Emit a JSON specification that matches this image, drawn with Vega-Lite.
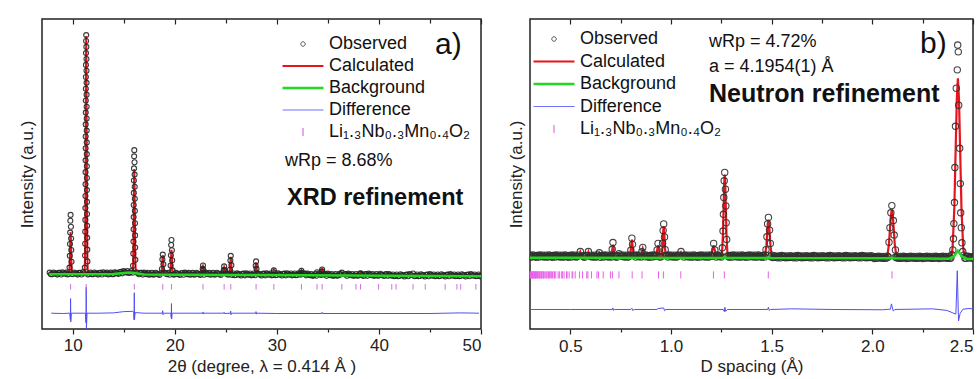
{
"$schema": "https://vega.github.io/schema/vega-lite/v6.json",
"padding": {"left": 17, "top": 17, "right": 0, "bottom": 0},
"background": "white",
"spacing": 23,
"resolve": {"scale": {"color": "independent", "shape": "independent", "strokeWidth": "independent"}, "legend": {"color": "independent", "shape": "independent", "strokeWidth": "independent"}},
"config": {
  "view": {"stroke": "#222", "strokeWidth": 1.5},
  "axis": {"labelFont": "Liberation Sans", "titleFont": "Liberation Sans", "labelFontSize": 17, "titleFontSize": 17, "titleFontWeight": "normal", "labelColor": "#222", "titleColor": "#222", "grid": false, "domain": false, "tickColor": "#222", "minExtent": 0},
  "text": {"font": "Liberation Sans", "color": "#111"}
},
"datasets": {
"keys": [{"s":"Observed"},{"s":"Calculated"},{"s":"Background"},{"s":"Difference"},{"s":"Li₁.₃Nb₀.₃Mn₀.₄O₂"}],
"obsA": [
{"x":7.75,"y":18.2},{"x":8,"y":17.7},{"x":8.25,"y":18},{"x":8.5,"y":17.55},{"x":8.75,"y":18.15},{"x":9,"y":18.3},{"x":9.25,"y":17.8},{"x":9.5,"y":17.6},{"x":10,"y":17.7},{"x":10.25,"y":18},{"x":10.5,"y":17.55},{"x":10.75,"y":18.15},{"x":11,"y":18.3},{"x":11.5,"y":17.6},{"x":11.75,"y":18.2},{"x":12,"y":17.7},{"x":12.25,"y":18},{"x":12.5,"y":17.55},{"x":12.75,"y":18.15},{"x":13,"y":18.3},{"x":13.25,"y":17.8},{"x":13.5,"y":17.6},{"x":13.75,"y":18.2},{"x":14,"y":17.7},{"x":14.25,"y":18.1},{"x":14.5,"y":17.75},{"x":14.75,"y":18.45},{"x":15,"y":18.7},{"x":15.25,"y":18.25},{"x":15.5,"y":18.1},{"x":15.75,"y":18.7},{"x":16.25,"y":18.3},{"x":16.5,"y":17.65},{"x":16.75,"y":18.15},{"x":17,"y":18.2},{"x":17.25,"y":17.7},{"x":17.5,"y":17.5},{"x":17.75,"y":18.1},{"x":18,"y":17.6},{"x":18.25,"y":17.9},{"x":18.5,"y":17.45},{"x":19,"y":18.2},{"x":19.25,"y":17.7},{"x":19.5,"y":17.5},{"x":20,"y":17.6},{"x":20.25,"y":17.9},{"x":20.5,"y":17.45},{"x":20.75,"y":18.05},{"x":21,"y":18.2},{"x":21.25,"y":17.7},{"x":21.5,"y":17.5},{"x":21.75,"y":18.1},{"x":22,"y":17.6},{"x":22.25,"y":17.9},{"x":22.5,"y":17.45},{"x":23,"y":18.2},{"x":23.25,"y":17.7},{"x":23.5,"y":17.5},{"x":23.75,"y":18.1},{"x":24,"y":17.6},{"x":24.25,"y":17.9},{"x":24.5,"y":17.45},{"x":25,"y":18},{"x":25.25,"y":17.5},{"x":25.75,"y":17.9},{"x":26,"y":17.4},{"x":26.25,"y":17.7},{"x":26.5,"y":17.25},{"x":26.75,"y":17.85},{"x":27,"y":18},{"x":27.25,"y":17.5},{"x":27.5,"y":17.3},{"x":27.75,"y":17.9},{"x":28.25,"y":17.7},{"x":28.5,"y":17.25},{"x":28.75,"y":17.85},{"x":29,"y":18},{"x":29.25,"y":17.5},{"x":29.5,"y":17.3},{"x":30,"y":17.4},{"x":30.25,"y":17.7},{"x":30.5,"y":17.25},{"x":30.75,"y":17.85},{"x":31,"y":18},{"x":31.25,"y":17.5},{"x":31.5,"y":17.3},{"x":31.75,"y":17.9},{"x":32,"y":17.4},{"x":32.25,"y":17.7},{"x":32.75,"y":17.85},{"x":33,"y":17.85},{"x":33.25,"y":17.35},{"x":33.5,"y":17.15},{"x":33.75,"y":17.75},{"x":34.25,"y":17.55},{"x":34.75,"y":17.7},{"x":35,"y":17.85},{"x":35.25,"y":17.35},{"x":35.5,"y":17.15},{"x":35.75,"y":17.75},{"x":36,"y":17.25},{"x":36.25,"y":17.55},{"x":36.75,"y":17.7},{"x":37,"y":17.85},{"x":37.25,"y":17.35},{"x":37.5,"y":17.15},{"x":37.75,"y":17.75},{"x":38,"y":17.25},{"x":38.5,"y":17.1},{"x":38.75,"y":17.7},{"x":39,"y":17.85},{"x":39.25,"y":17.35},{"x":39.5,"y":17.15},{"x":39.75,"y":17.75},{"x":40,"y":17.25},{"x":40.25,"y":17.55},{"x":40.5,"y":17.1},{"x":40.75,"y":17.7},{"x":41,"y":17.7},{"x":41.25,"y":17.2},{"x":41.5,"y":17},{"x":41.75,"y":17.6},{"x":42,"y":17.1},{"x":42.25,"y":17.4},{"x":42.5,"y":16.95},{"x":42.75,"y":17.55},{"x":43,"y":17.7},{"x":43.5,"y":17},{"x":43.75,"y":17.6},{"x":44,"y":17.1},{"x":44.25,"y":17.4},{"x":44.5,"y":16.95},{"x":44.75,"y":17.55},{"x":45,"y":17.7},{"x":45.25,"y":17.2},{"x":45.5,"y":17},{"x":45.75,"y":17.6},{"x":46,"y":17.1},{"x":46.25,"y":17.4},{"x":46.5,"y":16.95},{"x":46.75,"y":17.55},{"x":47,"y":17.7},{"x":47.25,"y":17.2},{"x":47.5,"y":17},{"x":47.75,"y":17.6},{"x":48,"y":17.1},{"x":48.25,"y":17.4},{"x":48.5,"y":16.95},{"x":48.75,"y":17.55},{"x":49,"y":17.7},{"x":49.25,"y":17.2},{"x":49.5,"y":17},{"x":49.75,"y":17.6},{"x":50,"y":17.1},
{"x":7.875,"y":17.65},{"x":8.125,"y":18.25},{"x":8.375,"y":17.85},{"x":8.625,"y":18.1},{"x":8.875,"y":17.6},{"x":9.125,"y":18},{"x":9.375,"y":18.2},{"x":9.625,"y":17.75},{"x":10.125,"y":18.25},{"x":10.375,"y":17.85},{"x":10.625,"y":18.1},{"x":10.875,"y":17.6},{"x":11.125,"y":18},{"x":11.625,"y":17.75},{"x":11.875,"y":17.65},{"x":12.125,"y":18.25},{"x":12.375,"y":17.85},{"x":12.625,"y":18.1},{"x":12.875,"y":17.6},{"x":13.125,"y":18},{"x":13.375,"y":18.2},{"x":13.625,"y":17.75},{"x":13.875,"y":17.65},{"x":14.125,"y":18.3},{"x":14.375,"y":18},{"x":14.625,"y":18.35},{"x":14.875,"y":17.95},{"x":15.125,"y":18.4},{"x":15.375,"y":18.7},{"x":15.625,"y":18.25},{"x":15.875,"y":18.15},{"x":16.375,"y":18.05},{"x":16.625,"y":18.15},{"x":16.875,"y":17.55},{"x":17.125,"y":17.9},{"x":17.375,"y":18.1},{"x":17.625,"y":17.65},{"x":17.875,"y":17.55},{"x":18.125,"y":18.15},{"x":18.375,"y":17.75},{"x":18.625,"y":18},{"x":19.125,"y":17.9},{"x":19.375,"y":18.1},{"x":19.875,"y":17.55},{"x":20.125,"y":18.15},{"x":20.375,"y":17.75},{"x":20.625,"y":18},{"x":20.875,"y":17.5},{"x":21.125,"y":17.9},{"x":21.375,"y":18.1},{"x":21.625,"y":17.65},{"x":21.875,"y":17.55},{"x":22.125,"y":18.15},{"x":22.375,"y":17.75},{"x":22.625,"y":18},{"x":22.875,"y":17.5},{"x":23.125,"y":17.9},{"x":23.375,"y":18.1},{"x":23.625,"y":17.65},{"x":23.875,"y":17.55},{"x":24.125,"y":18.15},{"x":24.375,"y":17.75},{"x":24.625,"y":18},{"x":25.125,"y":17.7},{"x":25.375,"y":17.9},{"x":25.625,"y":17.45},{"x":25.875,"y":17.35},{"x":26.125,"y":17.95},{"x":26.375,"y":17.55},{"x":26.625,"y":17.8},{"x":26.875,"y":17.3},{"x":27.125,"y":17.7},{"x":27.375,"y":17.9},{"x":27.625,"y":17.45},{"x":27.875,"y":17.35},{"x":28.125,"y":17.95},{"x":28.375,"y":17.55},{"x":28.625,"y":17.8},{"x":28.875,"y":17.3},{"x":29.125,"y":17.7},{"x":29.375,"y":17.9},{"x":29.625,"y":17.45},{"x":29.875,"y":17.35},{"x":30.125,"y":17.95},{"x":30.375,"y":17.55},{"x":30.625,"y":17.8},{"x":30.875,"y":17.3},{"x":31.125,"y":17.7},{"x":31.375,"y":17.9},{"x":31.625,"y":17.45},{"x":31.875,"y":17.35},{"x":32.125,"y":17.95},{"x":32.375,"y":17.55},{"x":32.625,"y":17.8},{"x":32.875,"y":17.3},{"x":33.125,"y":17.55},{"x":33.375,"y":17.75},{"x":33.625,"y":17.3},{"x":33.875,"y":17.2},{"x":34.125,"y":17.8},{"x":34.375,"y":17.4},{"x":34.625,"y":17.65},{"x":34.875,"y":17.15},{"x":35.125,"y":17.55},{"x":35.375,"y":17.75},{"x":35.625,"y":17.3},{"x":35.875,"y":17.2},{"x":36.125,"y":17.8},{"x":36.625,"y":17.65},{"x":36.875,"y":17.15},{"x":37.125,"y":17.55},{"x":37.375,"y":17.75},{"x":37.625,"y":17.3},{"x":37.875,"y":17.2},{"x":38.125,"y":17.8},{"x":38.375,"y":17.4},{"x":38.625,"y":17.65},{"x":38.875,"y":17.15},{"x":39.125,"y":17.55},{"x":39.375,"y":17.75},{"x":39.625,"y":17.3},{"x":39.875,"y":17.2},{"x":40.125,"y":17.8},{"x":40.375,"y":17.4},{"x":40.625,"y":17.65},{"x":40.875,"y":17.15},{"x":41.125,"y":17.4},{"x":41.375,"y":17.6},{"x":41.625,"y":17.15},{"x":41.875,"y":17.05},{"x":42.125,"y":17.65},{"x":42.375,"y":17.25},{"x":42.625,"y":17.5},{"x":42.875,"y":17},{"x":43.125,"y":17.4},{"x":43.625,"y":17.15},{"x":43.875,"y":17.05},{"x":44.125,"y":17.65},{"x":44.375,"y":17.25},{"x":44.625,"y":17.5},{"x":44.875,"y":17},{"x":45.125,"y":17.4},{"x":45.375,"y":17.6},{"x":45.625,"y":17.15},{"x":45.875,"y":17.05},{"x":46.125,"y":17.65},{"x":46.375,"y":17.25},{"x":46.625,"y":17.5},{"x":46.875,"y":17},{"x":47.125,"y":17.4},{"x":47.375,"y":17.6},{"x":47.625,"y":17.15},{"x":47.875,"y":17.05},{"x":48.125,"y":17.65},{"x":48.375,"y":17.25},{"x":48.625,"y":17.5},{"x":48.875,"y":17},{"x":49.125,"y":17.4},{"x":49.375,"y":17.6},{"x":49.625,"y":17.15},{"x":49.875,"y":17.05},
{"x":9.8,"y":36.8},{"x":9.833,"y":33},{"x":9.851,"y":29.2},{"x":9.868,"y":25.5},{"x":9.89,"y":21.7},{"x":9.777,"y":34.9},{"x":9.758,"y":31.1},{"x":9.741,"y":27.4},{"x":9.722,"y":23.6},{"x":9.693,"y":19.8},
{"x":11.33,"y":94.8},{"x":11.346,"y":91},{"x":11.353,"y":87.1},{"x":11.359,"y":83.3},{"x":11.363,"y":79.4},{"x":11.368,"y":75.6},{"x":11.372,"y":71.7},{"x":11.376,"y":67.9},{"x":11.381,"y":64},{"x":11.385,"y":60.2},{"x":11.389,"y":56.4},{"x":11.393,"y":52.5},{"x":11.398,"y":48.7},{"x":11.402,"y":44.8},{"x":11.408,"y":41},{"x":11.413,"y":37.1},{"x":11.42,"y":33.3},{"x":11.427,"y":29.4},{"x":11.437,"y":25.6},{"x":11.452,"y":21.8},
{"x":11.319,"y":92.9},{"x":11.31,"y":89},{"x":11.304,"y":85.2},{"x":11.299,"y":81.3},{"x":11.294,"y":77.5},{"x":11.29,"y":73.7},{"x":11.286,"y":69.8},{"x":11.282,"y":66},{"x":11.277,"y":62.1},{"x":11.273,"y":58.3},{"x":11.269,"y":54.4},{"x":11.265,"y":50.6},{"x":11.26,"y":46.7},{"x":11.255,"y":42.9},{"x":11.25,"y":39},{"x":11.244,"y":35.2},{"x":11.237,"y":31.4},{"x":11.228,"y":27.5},{"x":11.216,"y":23.7},{"x":11.194,"y":19.8},
{"x":16.04,"y":57.7},{"x":16.063,"y":53.8},{"x":16.073,"y":49.8},{"x":16.082,"y":45.9},{"x":16.091,"y":42},{"x":16.099,"y":38.1},{"x":16.108,"y":34.1},{"x":16.118,"y":30.2},{"x":16.13,"y":26.3},{"x":16.147,"y":22.3},{"x":16.024,"y":55.7},{"x":16.011,"y":51.8},{"x":16.002,"y":47.9},{"x":15.994,"y":43.9},{"x":15.985,"y":40},{"x":15.977,"y":36.1},{"x":15.968,"y":32.2},{"x":15.957,"y":28.2},{"x":15.943,"y":24.3},{"x":15.918,"y":20.4},
{"x":18.83,"y":24},{"x":18.889,"y":20.9},{"x":18.792,"y":22.45},{"x":18.747,"y":19.35},
{"x":19.68,"y":28.7},{"x":19.722,"y":25.4},{"x":19.748,"y":22.2},{"x":19.787,"y":18.9},{"x":19.651,"y":27.1},{"x":19.625,"y":23.8},{"x":19.597,"y":20.5},
{"x":22.77,"y":20.5},{"x":22.738,"y":19.4},{"x":22.8,"y":19},
{"x":24.84,"y":20.2},{"x":24.81,"y":19},{"x":24.87,"y":18.9},
{"x":25.49,"y":23.6},{"x":25.549,"y":20.6},{"x":25.452,"y":22.1},{"x":25.407,"y":19.1},
{"x":27.97,"y":21.8},{"x":27.93,"y":20.4},{"x":28.01,"y":19.4},
{"x":29.71,"y":18.9},{"x":29.68,"y":18.3},{"x":32.41,"y":18.8},{"x":32.44,"y":18.2},{"x":33.94,"y":18.3},{"x":34.44,"y":19.2},{"x":34.41,"y":18.6},{"x":34.47,"y":18.4},{"x":36.37,"y":18.2},{"x":38.2,"y":18},{"x":38.26,"y":17.8},{"x":43.34,"y":17.9}
],
"calcA": [
{"x":7.7,"y":17.9},{"x":9.64,"y":17.9},{"x":9.68,"y":18.7},{"x":9.72,"y":21.6},{"x":9.75,"y":26.1},{"x":9.775,"y":29.7},{"x":9.8,"y":31.3},{"x":9.825,"y":29.7},{"x":9.85,"y":26.1},{"x":9.88,"y":21.6},{"x":9.92,"y":18.7},{"x":9.96,"y":17.9},{"x":11.17,"y":17.9},{"x":11.21,"y":22.5},{"x":11.25,"y":39.3},{"x":11.28,"y":64.6},{"x":11.305,"y":85.3},{"x":11.33,"y":94.5},{"x":11.355,"y":85.3},{"x":11.38,"y":64.6},{"x":11.41,"y":39.3},{"x":11.45,"y":22.5},{"x":11.49,"y":17.9},{"x":13,"y":17.9},{"x":14,"y":17.95},{"x":15,"y":18.3},{"x":15.5,"y":18.4},{"x":15.88,"y":18.4},{"x":15.92,"y":20.4},{"x":15.96,"y":27.7},{"x":15.99,"y":38.7},{"x":16.015,"y":47.6},{"x":16.04,"y":51.6},{"x":16.065,"y":47.6},{"x":16.09,"y":38.7},{"x":16.12,"y":27.7},{"x":16.16,"y":20.4},{"x":16.2,"y":18.3},{"x":16.5,"y":18},{"x":17,"y":17.8},{"x":18.67,"y":17.8},{"x":18.71,"y":18.2},{"x":18.75,"y":19.5},{"x":18.78,"y":21.5},{"x":18.805,"y":23.1},{"x":18.83,"y":23.8},{"x":18.855,"y":23.1},{"x":18.88,"y":21.5},{"x":18.91,"y":19.5},{"x":18.95,"y":18.2},{"x":18.99,"y":17.8},{"x":19.52,"y":17.8},{"x":19.56,"y":18.3},{"x":19.6,"y":20},{"x":19.63,"y":22.5},{"x":19.655,"y":24.6},{"x":19.68,"y":25.5},{"x":19.705,"y":24.6},{"x":19.73,"y":22.5},{"x":19.76,"y":20},{"x":19.8,"y":18.3},{"x":19.84,"y":17.8},{"x":22.61,"y":17.8},{"x":22.69,"y":18.5},{"x":22.72,"y":19.3},{"x":22.745,"y":19.9},{"x":22.77,"y":20.2},{"x":22.795,"y":19.9},{"x":22.82,"y":19.3},{"x":22.85,"y":18.5},{"x":22.93,"y":17.75},{"x":24.68,"y":17.7},{"x":24.76,"y":18.3},{"x":24.79,"y":19},{"x":24.815,"y":19.6},{"x":24.84,"y":19.9},{"x":24.865,"y":19.6},{"x":24.89,"y":19},{"x":24.92,"y":18.3},{"x":25,"y":17.7},{"x":25.33,"y":17.65},{"x":25.41,"y":19.2},{"x":25.44,"y":21.1},{"x":25.465,"y":22.6},{"x":25.49,"y":23.3},{"x":25.515,"y":22.6},{"x":25.54,"y":21.1},{"x":25.57,"y":19.2},{"x":25.65,"y":17.6},{"x":27.81,"y":17.6},{"x":27.89,"y":18.7},{"x":27.92,"y":20},{"x":27.945,"y":21},{"x":27.97,"y":21.5},{"x":27.995,"y":21},{"x":28.02,"y":20},{"x":28.05,"y":18.7},{"x":28.13,"y":17.6},{"x":29.6,"y":17.6},{"x":29.67,"y":18.3},{"x":29.71,"y":18.8},{"x":29.75,"y":18.3},{"x":29.82,"y":17.6},{"x":32.3,"y":17.55},{"x":32.37,"y":18.2},{"x":32.41,"y":18.7},{"x":32.45,"y":18.2},{"x":32.52,"y":17.5},{"x":33.85,"y":17.5},{"x":33.94,"y":18.2},{"x":34.02,"y":17.5},{"x":34.35,"y":17.5},{"x":34.4,"y":18.5},{"x":34.44,"y":19},{"x":34.48,"y":18.5},{"x":34.55,"y":17.5},{"x":36.3,"y":17.45},{"x":36.37,"y":18.1},{"x":36.44,"y":17.45},{"x":38.13,"y":17.4},{"x":38.2,"y":17.9},{"x":38.27,"y":17.4},{"x":43.27,"y":17.3},{"x":43.34,"y":17.7},{"x":43.41,"y":17.3},{"x":50,"y":17.2}
],
"bkgA": [{"x":7.7,"y":17.7},{"x":13,"y":17.7},{"x":14,"y":17.75},{"x":15,"y":18.1},{"x":15.6,"y":18.2},{"x":16.2,"y":18},{"x":17,"y":17.6},{"x":25,"y":17.45},{"x":33,"y":17.3},{"x":41,"y":17.15},{"x":50,"y":17.05}],
"diffA": [{"x":7.9,"y":5.1},{"x":9,"y":5},{"x":9.72,"y":5.1},{"x":9.78,"y":3},{"x":9.8,"y":9.8},{"x":9.82,"y":2.3},{"x":9.88,"y":5.1},{"x":10.5,"y":5.1},{"x":11.25,"y":5.1},{"x":11.31,"y":2},{"x":11.33,"y":13.5},{"x":11.35,"y":0},{"x":11.41,"y":5.1},{"x":12.5,"y":5.1},{"x":14,"y":5.2},{"x":15,"y":5.6},{"x":15.9,"y":5.7},{"x":15.98,"y":5.5},{"x":16.02,"y":3},{"x":16.04,"y":11.7},{"x":16.06,"y":2.9},{"x":16.12,"y":5.3},{"x":17,"y":5.1},{"x":18.78,"y":5.1},{"x":18.82,"y":5.9},{"x":18.85,"y":4.6},{"x":18.88,"y":5.1},{"x":19.62,"y":5.1},{"x":19.66,"y":3.6},{"x":19.68,"y":8.2},{"x":19.7,"y":3.2},{"x":19.74,"y":5.1},{"x":21,"y":5.1},{"x":22.74,"y":5.1},{"x":22.77,"y":5.5},{"x":22.8,"y":4.8},{"x":22.83,"y":5.1},{"x":24.8,"y":5.1},{"x":24.84,"y":5.4},{"x":24.88,"y":5},{"x":25.45,"y":5.1},{"x":25.48,"y":5.8},{"x":25.51,"y":4.6},{"x":25.54,"y":5.1},{"x":27.93,"y":5.1},{"x":27.96,"y":5.6},{"x":27.99,"y":4.8},{"x":28.02,"y":5.1},{"x":30,"y":5},{"x":34.4,"y":5},{"x":34.44,"y":5.4},{"x":34.48,"y":5},{"x":40,"y":5},{"x":45,"y":5},{"x":48,"y":5.2},{"x":49.8,"y":5.1}],
"refA": [{"x":9.8},{"x":11.33},{"x":16.04},{"x":18.83},{"x":19.68},{"x":22.77},{"x":24.84},{"x":25.49},{"x":27.97},{"x":29.71},{"x":32.41},{"x":33.94},{"x":34.44},{"x":36.37},{"x":37.75},{"x":38.2},{"x":39.97},{"x":41.26},{"x":41.68},{"x":43.34},{"x":44.54},{"x":46.49},{"x":47.64},{"x":48.01},{"x":49.5}],
"obsB": [
{"x":0.3,"y":23.8},{"x":0.31,"y":23.3},{"x":0.32,"y":23.6},{"x":0.33,"y":23.15},{"x":0.34,"y":23.75},{"x":0.35,"y":23.9},{"x":0.36,"y":23.4},{"x":0.37,"y":23.2},{"x":0.38,"y":23.8},{"x":0.39,"y":23.3},{"x":0.4,"y":23.6},{"x":0.41,"y":23.15},{"x":0.42,"y":23.75},{"x":0.43,"y":23.9},{"x":0.44,"y":23.4},{"x":0.45,"y":23.2},{"x":0.46,"y":23.8},{"x":0.47,"y":23.3},{"x":0.48,"y":23.6},{"x":0.49,"y":23.15},{"x":0.5,"y":23.75},{"x":0.51,"y":23.9},{"x":0.52,"y":23.4},{"x":0.53,"y":23.2},{"x":0.54,"y":23.8},{"x":0.56,"y":23.6},{"x":0.57,"y":23.15},{"x":0.58,"y":23.75},{"x":0.6,"y":23.4},{"x":0.61,"y":23.2},{"x":0.62,"y":23.8},{"x":0.63,"y":23.3},{"x":0.65,"y":23.15},{"x":0.66,"y":23.75},{"x":0.67,"y":23.9},{"x":0.68,"y":23.4},{"x":0.69,"y":23.2},{"x":0.7,"y":23.8},{"x":0.72,"y":23.6},{"x":0.73,"y":23.15},{"x":0.75,"y":23.9},{"x":0.76,"y":23.4},{"x":0.77,"y":23.2},{"x":0.78,"y":23.8},{"x":0.79,"y":23.3},{"x":0.82,"y":23.75},{"x":0.83,"y":23.9},{"x":0.84,"y":23.4},{"x":0.85,"y":23.2},{"x":0.87,"y":23.3},{"x":0.88,"y":23.6},{"x":0.89,"y":23.15},{"x":0.9,"y":23.75},{"x":0.91,"y":23.9},{"x":0.92,"y":23.4},{"x":0.95,"y":23.3},{"x":0.98,"y":23.75},{"x":0.99,"y":23.9},{"x":1,"y":23.4},{"x":1.01,"y":23.2},{"x":1.02,"y":23.8},{"x":1.03,"y":23.3},{"x":1.04,"y":23.6},{"x":1.06,"y":23.75},{"x":1.07,"y":23.9},{"x":1.08,"y":23.4},{"x":1.09,"y":23.2},{"x":1.1,"y":23.8},{"x":1.11,"y":23.3},{"x":1.12,"y":23.6},{"x":1.13,"y":23.15},{"x":1.14,"y":23.75},{"x":1.15,"y":23.9},{"x":1.16,"y":23.4},{"x":1.17,"y":23.2},{"x":1.18,"y":23.8},{"x":1.19,"y":23.3},{"x":1.2,"y":23.6},{"x":1.23,"y":23.9},{"x":1.24,"y":23.4},{"x":1.25,"y":23.2},{"x":1.28,"y":23.6},{"x":1.29,"y":23.15},{"x":1.3,"y":23.75},{"x":1.31,"y":23.9},{"x":1.32,"y":23.4},{"x":1.33,"y":23.2},{"x":1.34,"y":23.8},{"x":1.35,"y":23.3},{"x":1.36,"y":23.6},{"x":1.37,"y":23.15},{"x":1.38,"y":23.75},{"x":1.39,"y":23.9},{"x":1.4,"y":23.4},{"x":1.41,"y":23.2},{"x":1.42,"y":23.8},{"x":1.43,"y":23.3},{"x":1.44,"y":23.6},{"x":1.45,"y":23.15},{"x":1.46,"y":23.75},{"x":1.47,"y":23.9},{"x":1.5,"y":23.8},{"x":1.51,"y":23.1},{"x":1.52,"y":23.4},{"x":1.53,"y":22.95},{"x":1.54,"y":23.55},{"x":1.55,"y":23.7},{"x":1.56,"y":23.2},{"x":1.57,"y":23},{"x":1.58,"y":23.6},{"x":1.59,"y":23.1},{"x":1.6,"y":23.4},{"x":1.61,"y":22.95},{"x":1.62,"y":23.55},{"x":1.63,"y":23.7},{"x":1.64,"y":23.2},{"x":1.65,"y":23},{"x":1.66,"y":23.6},{"x":1.67,"y":23.1},{"x":1.68,"y":23.4},{"x":1.69,"y":22.95},{"x":1.7,"y":23.55},{"x":1.71,"y":23.7},{"x":1.72,"y":23.2},{"x":1.73,"y":23},{"x":1.74,"y":23.6},{"x":1.75,"y":23.1},{"x":1.76,"y":23.4},{"x":1.77,"y":22.95},{"x":1.78,"y":23.55},{"x":1.79,"y":23.7},{"x":1.8,"y":23.2},{"x":1.81,"y":23},{"x":1.82,"y":23.6},{"x":1.83,"y":23.1},{"x":1.84,"y":23.4},{"x":1.85,"y":22.95},{"x":1.86,"y":23.55},{"x":1.87,"y":23.7},{"x":1.88,"y":23.2},{"x":1.89,"y":23},{"x":1.9,"y":23.6},{"x":1.91,"y":23.1},{"x":1.92,"y":23.4},{"x":1.93,"y":22.95},{"x":1.94,"y":23.55},{"x":1.95,"y":23.7},{"x":1.96,"y":23.2},{"x":1.97,"y":23},{"x":1.98,"y":23.6},{"x":1.99,"y":23.1},{"x":2,"y":23.4},{"x":2.01,"y":22.75},{"x":2.02,"y":23.35},{"x":2.03,"y":23.5},{"x":2.04,"y":23},{"x":2.05,"y":22.8},{"x":2.06,"y":23.4},{"x":2.07,"y":22.9},{"x":2.08,"y":23.2},{"x":2.12,"y":23},{"x":2.13,"y":22.8},{"x":2.14,"y":23.4},{"x":2.15,"y":22.9},{"x":2.16,"y":23.2},{"x":2.17,"y":22.75},{"x":2.18,"y":23.35},{"x":2.19,"y":23.5},{"x":2.2,"y":23},{"x":2.21,"y":22.8},{"x":2.22,"y":23.4},{"x":2.23,"y":22.9},{"x":2.24,"y":23.2},{"x":2.25,"y":22.75},{"x":2.26,"y":23.35},{"x":2.27,"y":23.5},{"x":2.28,"y":23},{"x":2.29,"y":22.8},{"x":2.3,"y":23.4},{"x":2.31,"y":22.9},{"x":2.32,"y":23.2},{"x":2.33,"y":22.75},{"x":2.34,"y":23.35},{"x":2.35,"y":23.5},{"x":2.36,"y":23},{"x":2.37,"y":22.8},{"x":2.38,"y":23.4},{"x":2.39,"y":22.9},{"x":2.46,"y":22.8},{"x":2.47,"y":23.4},{"x":2.48,"y":22.9},{"x":2.49,"y":23.2},{"x":2.5,"y":22.75},
{"x":0.305,"y":23.25},{"x":0.315,"y":23.85},{"x":0.325,"y":23.45},{"x":0.335,"y":23.7},{"x":0.345,"y":23.2},{"x":0.355,"y":23.6},{"x":0.365,"y":23.8},{"x":0.375,"y":23.35},{"x":0.385,"y":23.25},{"x":0.395,"y":23.85},{"x":0.405,"y":23.45},{"x":0.415,"y":23.7},{"x":0.425,"y":23.2},{"x":0.435,"y":23.6},{"x":0.445,"y":23.8},{"x":0.455,"y":23.35},{"x":0.465,"y":23.25},{"x":0.475,"y":23.85},{"x":0.485,"y":23.45},{"x":0.495,"y":23.7},{"x":0.505,"y":23.2},{"x":0.515,"y":23.6},{"x":0.525,"y":23.8},{"x":0.535,"y":23.35},{"x":0.565,"y":23.45},{"x":0.575,"y":23.7},{"x":0.605,"y":23.8},{"x":0.615,"y":23.35},{"x":0.625,"y":23.25},{"x":0.635,"y":23.85},{"x":0.655,"y":23.7},{"x":0.665,"y":23.2},{"x":0.675,"y":23.6},{"x":0.685,"y":23.8},{"x":0.695,"y":23.35},{"x":0.705,"y":23.25},{"x":0.725,"y":23.45},{"x":0.735,"y":23.7},{"x":0.755,"y":23.6},{"x":0.765,"y":23.8},{"x":0.775,"y":23.35},{"x":0.785,"y":23.25},{"x":0.795,"y":23.85},{"x":0.815,"y":23.7},{"x":0.825,"y":23.2},{"x":0.835,"y":23.6},{"x":0.845,"y":23.8},{"x":0.875,"y":23.85},{"x":0.885,"y":23.45},{"x":0.895,"y":23.7},{"x":0.905,"y":23.2},{"x":0.915,"y":23.6},{"x":0.925,"y":23.8},{"x":0.945,"y":23.25},{"x":0.975,"y":23.7},{"x":0.985,"y":23.2},{"x":0.995,"y":23.6},{"x":1.005,"y":23.8},{"x":1.015,"y":23.35},{"x":1.025,"y":23.25},{"x":1.035,"y":23.85},{"x":1.065,"y":23.2},{"x":1.075,"y":23.6},{"x":1.085,"y":23.8},{"x":1.095,"y":23.35},{"x":1.105,"y":23.25},{"x":1.115,"y":23.85},{"x":1.125,"y":23.45},{"x":1.135,"y":23.7},{"x":1.145,"y":23.2},{"x":1.155,"y":23.6},{"x":1.165,"y":23.8},{"x":1.175,"y":23.35},{"x":1.185,"y":23.25},{"x":1.195,"y":23.85},{"x":1.205,"y":23.45},{"x":1.225,"y":23.2},{"x":1.235,"y":23.6},{"x":1.245,"y":23.8},{"x":1.285,"y":23.45},{"x":1.295,"y":23.7},{"x":1.305,"y":23.2},{"x":1.315,"y":23.6},{"x":1.325,"y":23.8},{"x":1.335,"y":23.35},{"x":1.345,"y":23.25},{"x":1.355,"y":23.85},{"x":1.365,"y":23.45},{"x":1.375,"y":23.7},{"x":1.385,"y":23.2},{"x":1.395,"y":23.6},{"x":1.405,"y":23.8},{"x":1.415,"y":23.35},{"x":1.425,"y":23.25},{"x":1.435,"y":23.85},{"x":1.445,"y":23.45},{"x":1.455,"y":23.7},{"x":1.465,"y":23.2},{"x":1.495,"y":23.35},{"x":1.505,"y":23.05},{"x":1.515,"y":23.65},{"x":1.525,"y":23.25},{"x":1.535,"y":23.5},{"x":1.545,"y":23},{"x":1.555,"y":23.4},{"x":1.565,"y":23.6},{"x":1.575,"y":23.15},{"x":1.585,"y":23.05},{"x":1.595,"y":23.65},{"x":1.605,"y":23.25},{"x":1.615,"y":23.5},{"x":1.625,"y":23},{"x":1.635,"y":23.4},{"x":1.645,"y":23.6},{"x":1.655,"y":23.15},{"x":1.665,"y":23.05},{"x":1.675,"y":23.65},{"x":1.685,"y":23.25},{"x":1.695,"y":23.5},{"x":1.705,"y":23},{"x":1.715,"y":23.4},{"x":1.725,"y":23.6},{"x":1.735,"y":23.15},{"x":1.745,"y":23.05},{"x":1.755,"y":23.65},{"x":1.765,"y":23.25},{"x":1.775,"y":23.5},{"x":1.785,"y":23},{"x":1.795,"y":23.4},{"x":1.805,"y":23.6},{"x":1.815,"y":23.15},{"x":1.825,"y":23.05},{"x":1.835,"y":23.65},{"x":1.845,"y":23.25},{"x":1.855,"y":23.5},{"x":1.865,"y":23},{"x":1.875,"y":23.4},{"x":1.885,"y":23.6},{"x":1.895,"y":23.15},{"x":1.905,"y":23.05},{"x":1.915,"y":23.65},{"x":1.925,"y":23.25},{"x":1.935,"y":23.5},{"x":1.945,"y":23},{"x":1.955,"y":23.4},{"x":1.965,"y":23.6},{"x":1.975,"y":23.15},{"x":1.985,"y":23.05},{"x":1.995,"y":23.65},{"x":2.005,"y":23.05},{"x":2.015,"y":23.3},{"x":2.025,"y":22.8},{"x":2.035,"y":23.2},{"x":2.045,"y":23.4},{"x":2.055,"y":22.95},{"x":2.065,"y":22.85},{"x":2.075,"y":23.45},{"x":2.115,"y":23.2},{"x":2.125,"y":23.4},{"x":2.135,"y":22.95},{"x":2.145,"y":22.85},{"x":2.155,"y":23.45},{"x":2.165,"y":23.05},{"x":2.175,"y":23.3},{"x":2.185,"y":22.8},{"x":2.195,"y":23.2},{"x":2.205,"y":23.4},{"x":2.215,"y":22.95},{"x":2.225,"y":22.85},{"x":2.235,"y":23.45},{"x":2.245,"y":23.05},{"x":2.255,"y":23.3},{"x":2.265,"y":22.8},{"x":2.275,"y":23.2},{"x":2.285,"y":23.4},{"x":2.295,"y":22.95},{"x":2.305,"y":22.85},{"x":2.315,"y":23.45},{"x":2.325,"y":23.05},{"x":2.335,"y":23.3},{"x":2.345,"y":22.8},{"x":2.355,"y":23.2},{"x":2.365,"y":23.4},{"x":2.375,"y":22.95},{"x":2.385,"y":22.85},{"x":2.465,"y":22.85},{"x":2.475,"y":23.45},{"x":2.485,"y":23.05},{"x":2.495,"y":23.3},
{"x":0.55,"y":25},{"x":0.59,"y":25},{"x":0.644,"y":24.6},{"x":0.712,"y":27.9},{"x":0.7084,"y":25.7},{"x":0.742,"y":24.3},{"x":0.806,"y":29.3},{"x":0.8092,"y":27.3},{"x":0.8008,"y":25.4},{"x":0.86,"y":26.3},{"x":0.8556,"y":24.9},{"x":0.936,"y":27.6},{"x":0.9313,"y":25.5},{"x":0.964,"y":33.9},{"x":0.9681,"y":29.7},{"x":0.9714,"y":25.6},{"x":0.9613,"y":31.8},{"x":0.9584,"y":27.7},{"x":1.05,"y":25},{"x":1.212,"y":27.6},{"x":1.2181,"y":25.5},
{"x":1.267,"y":50.5},{"x":1.2706,"y":45.1},{"x":1.2725,"y":39.7},{"x":1.2743,"y":34.3},{"x":1.2767,"y":28.9},{"x":1.2645,"y":47.8},{"x":1.2624,"y":42.4},{"x":1.2606,"y":37},{"x":1.2586,"y":31.6},{"x":1.2554,"y":26.2},
{"x":1.484,"y":36},{"x":1.4897,"y":31.9},{"x":1.4935,"y":27.6},{"x":1.4801,"y":33.9},{"x":1.4765,"y":29.75},{"x":1.472,"y":25.6},
{"x":2.097,"y":39.8},{"x":2.1045,"y":35},{"x":2.1087,"y":30.3},{"x":2.1148,"y":25.5},{"x":2.0921,"y":37.5},{"x":2.0875,"y":32.7},{"x":2.0828,"y":28},
{"x":2.424,"y":91.6},{"x":2.427,"y":89.4},{"x":2.422,"y":83.6},{"x":2.417,"y":77.7},{"x":2.429,"y":72.2},{"x":2.413,"y":65.4},{"x":2.434,"y":58.3},{"x":2.41,"y":52.1},{"x":2.437,"y":46.9},{"x":2.408,"y":40.8},{"x":2.439,"y":37.5},{"x":2.405,"y":34},{"x":2.442,"y":32.7},{"x":2.403,"y":29.1},{"x":2.445,"y":27.8},{"x":2.4,"y":25.5},{"x":2.449,"y":25},{"x":2.395,"y":24},{"x":2.455,"y":23.8}
],
"calcB": [{"x":0.3,"y":23.5},{"x":0.544,"y":23.5},{"x":0.5476,"y":24.3},{"x":0.55,"y":24.8},{"x":0.5524,"y":24.3},{"x":0.556,"y":23.5},{"x":0.5838,"y":23.5},{"x":0.5875,"y":24.3},{"x":0.59,"y":24.8},{"x":0.5925,"y":24.3},{"x":0.5962,"y":23.5},{"x":0.637,"y":23.5},{"x":0.6412,"y":24.1},{"x":0.644,"y":24.5},{"x":0.6468,"y":24.1},{"x":0.651,"y":23.5},{"x":0.7043,"y":23.5},{"x":0.7089,"y":25.8},{"x":0.712,"y":27.2},{"x":0.7151,"y":25.8},{"x":0.7197,"y":23.5},{"x":0.735,"y":23.5},{"x":0.7387,"y":23.9},{"x":0.742,"y":24.1},{"x":0.7453,"y":23.9},{"x":0.749,"y":23.5},{"x":0.7973,"y":23.5},{"x":0.8025,"y":26.7},{"x":0.806,"y":28.8},{"x":0.8095,"y":26.7},{"x":0.8148,"y":23.5},{"x":0.8508,"y":23.5},{"x":0.8563,"y":25},{"x":0.86,"y":25.9},{"x":0.8637,"y":25},{"x":0.8693,"y":23.5},{"x":0.926,"y":23.5},{"x":0.932,"y":25.6},{"x":0.936,"y":27},{"x":0.94,"y":25.6},{"x":0.946,"y":23.5},{"x":0.9538,"y":23.5},{"x":0.9579,"y":26.2},{"x":0.9599,"y":29.4},{"x":0.962,"y":32},{"x":0.964,"y":33.2},{"x":0.966,"y":32},{"x":0.9681,"y":29.4},{"x":0.9702,"y":26.2},{"x":0.9743,"y":23.5},{"x":1.0388,"y":23.5},{"x":1.0455,"y":24.3},{"x":1.05,"y":24.8},{"x":1.0545,"y":24.3},{"x":1.0612,"y":23.5},{"x":1.199,"y":23.5},{"x":1.2068,"y":25.6},{"x":1.212,"y":27},{"x":1.2172,"y":25.6},{"x":1.225,"y":23.5},{"x":1.2508,"y":23.5},{"x":1.254,"y":25},{"x":1.2584,"y":30.9},{"x":1.2616,"y":39.5},{"x":1.2643,"y":46.6},{"x":1.267,"y":49.8},{"x":1.2697,"y":46.6},{"x":1.2724,"y":39.5},{"x":1.2756,"y":30.9},{"x":1.28,"y":25},{"x":1.2832,"y":23.5},{"x":1.4648,"y":23.5},{"x":1.4686,"y":24.2},{"x":1.4738,"y":26.8},{"x":1.4776,"y":30.7},{"x":1.4808,"y":33.9},{"x":1.484,"y":35.3},{"x":1.4872,"y":33.9},{"x":1.4904,"y":30.7},{"x":1.4942,"y":26.8},{"x":1.4994,"y":24.2},{"x":1.5032,"y":23.5},{"x":1.7,"y":23.4},{"x":2,"y":23.2},{"x":2.07,"y":23.1},{"x":2.0754,"y":24},{"x":2.0826,"y":27.4},{"x":2.088,"y":32.6},{"x":2.0925,"y":36.7},{"x":2.097,"y":38.6},{"x":2.1015,"y":36.7},{"x":2.106,"y":32.6},{"x":2.1114,"y":27.4},{"x":2.1186,"y":24},{"x":2.124,"y":23.1},{"x":2.392,"y":23},{"x":2.3986,"y":26.2},{"x":2.4074,"y":39.2},{"x":2.414,"y":58.3},{"x":2.4195,"y":74},{"x":2.425,"y":80.9},{"x":2.4305,"y":74},{"x":2.436,"y":58.3},{"x":2.4426,"y":39.2},{"x":2.4514,"y":26.2},{"x":2.458,"y":23},{"x":2.5,"y":23}],
"bkgB": [{"x":0.3,"y":23},{"x":0.5,"y":22.95},{"x":1,"y":22.9},{"x":1.26,"y":22.9},{"x":1.267,"y":23.3},{"x":1.274,"y":22.9},{"x":1.477,"y":22.9},{"x":1.484,"y":23.2},{"x":1.491,"y":22.9},{"x":2,"y":22.8},{"x":2.09,"y":22.8},{"x":2.097,"y":23.1},{"x":2.104,"y":22.8},{"x":2.38,"y":22.7},{"x":2.405,"y":23.4},{"x":2.425,"y":25.2},{"x":2.445,"y":23.4},{"x":2.47,"y":22.6},{"x":2.5,"y":22.6}],
"diffB": [{"x":0.3,"y":6.3},{"x":0.5,"y":6.3},{"x":0.71,"y":6.3},{"x":0.712,"y":6.8},{"x":0.714,"y":6},{"x":0.72,"y":6.3},{"x":0.8,"y":6.3},{"x":0.806,"y":6.7},{"x":0.81,"y":6},{"x":0.82,"y":6.3},{"x":0.93,"y":6.3},{"x":0.936,"y":6.6},{"x":0.964,"y":6.8},{"x":0.968,"y":5.9},{"x":0.975,"y":6.3},{"x":1.26,"y":6.3},{"x":1.265,"y":5.6},{"x":1.268,"y":7},{"x":1.272,"y":5.7},{"x":1.28,"y":6.3},{"x":1.48,"y":6.3},{"x":1.484,"y":7},{"x":1.488,"y":6},{"x":1.495,"y":6.3},{"x":1.6,"y":6.5},{"x":1.8,"y":6.3},{"x":2.05,"y":6.2},{"x":2.09,"y":6.4},{"x":2.095,"y":8.1},{"x":2.1,"y":6.8},{"x":2.104,"y":5.8},{"x":2.112,"y":6.3},{"x":2.3,"y":6.5},{"x":2.37,"y":6},{"x":2.4,"y":5.2},{"x":2.415,"y":4.8},{"x":2.422,"y":18.8},{"x":2.428,"y":2.6},{"x":2.436,"y":5},{"x":2.45,"y":6.4},{"x":2.48,"y":6.6},{"x":2.5,"y":6.5}],
"refB": [{"x":2.0977},{"x":1.4833},{"x":1.265},{"x":1.2111},{"x":1.0489},{"x":0.9625},{"x":0.9381},{"x":0.8564},{"x":0.8074},{"x":0.7416},{"x":0.7092},{"x":0.6992},{"x":0.6634},{"x":0.6398},{"x":0.6325},{"x":0.6056},{"x":0.5875},{"x":0.5818},{"x":0.5606},{"x":0.5462},{"x":0.5244},{"x":0.5126},{"x":0.5088},{"x":0.4944},{"x":0.4844},{"x":0.4812},{"x":0.4691},{"x":0.4605},{"x":0.4578},{"x":0.4472},{"x":0.4398},{"x":0.4282},{"x":0.4217},{"x":0.4195},{"x":0.4114},{"x":0.4056},{"x":0.4037},{"x":0.3964},{"x":0.3912},{"x":0.3895},{"x":0.383},{"x":0.3783},{"x":0.3708},{"x":0.3666},{"x":0.3652},{"x":0.3598},{"x":0.3559},{"x":0.3546},{"x":0.3496},{"x":0.346},{"x":0.3449},{"x":0.3403},{"x":0.337},{"x":0.3359},{"x":0.3317},{"x":0.3286},{"x":0.3276},{"x":0.3237},{"x":0.3208},{"x":0.3199},{"x":0.3162},{"x":0.3136},{"x":0.3127},{"x":0.3093},{"x":0.3068},{"x":0.3028},{"x":0.3004}]
},
"hconcat": [
{
 "width": 439, "height": 310,
 "resolve": {"axis": {"x": "independent", "y": "independent"}},
 "layer": [
  {"data": {"name": "calcA"}, "mark": {"type": "line", "color": "#e8141c", "strokeWidth": 2, "clip": true},
   "encoding": {
    "x": {"field": "x", "type": "quantitative", "scale": {"domain": [7, 50], "nice": false, "zero": false},
      "axis": {"orient": "bottom", "values": [10,15,20,25,30,35,40,45,50], "labelExpr": "datum.value % 10 === 0 ? datum.label : ''", "tickSize": {"condition": {"test": "datum.value % 10 === 0", "value": 5}, "value": 3}, "tickWidth": 1.2, "labelPadding": 3, "title": "2θ (degree, λ = 0.414 Å )", "titlePadding": 5}},
    "y": {"field": "y", "type": "quantitative", "scale": {"domain": [0, 100], "nice": false, "zero": false},
      "axis": {"orient": "left", "title": "Intensity (a.u.)", "labels": false, "ticks": false, "titlePadding": 6}}}},
  {"data": {"name": "obsA"}, "mark": {"type": "point", "shape": "circle", "filled": false, "color": "#262626", "size": 25, "strokeWidth": 1.1, "opacity": 0.9, "clip": true},
   "encoding": {
    "x": {"field": "x", "type": "quantitative", "axis": {"orient": "top", "values": [10,15,20,25,30,35,40,45,50], "labels": false, "title": null, "tickSize": {"condition": {"test": "datum.value % 10 === 0", "value": -5}, "value": -4}, "tickWidth": 1.2}},
    "y": {"field": "y", "type": "quantitative", "axis": null}}},
  {"data": {"name": "bkgA"}, "mark": {"type": "line", "color": "#22d822", "strokeWidth": 2.5, "clip": true},
   "encoding": {"x": {"field": "x", "type": "quantitative", "axis": null}, "y": {"field": "y", "type": "quantitative", "axis": null}}},
  {"data": {"name": "diffA"}, "mark": {"type": "line", "color": "#5050f2", "strokeWidth": 1, "clip": true},
   "encoding": {"x": {"field": "x", "type": "quantitative", "axis": null}, "y": {"field": "y", "type": "quantitative", "axis": null}}},
  {"data": {"name": "refA"}, "mark": {"type": "rule", "color": "#d070e0", "strokeWidth": 1},
   "encoding": {"x": {"field": "x", "type": "quantitative", "axis": null}, "y": {"datum": 12.7, "axis": null}, "y2": {"datum": 14.5}}},
  {"data": {"name": "keys"}, "mark": {"type": "point", "filled": false, "opacity": 0},
   "encoding": {
    "color": {"field": "s", "type": "nominal", "scale": {"domain": ["Observed","Calculated","Background","Difference","Li₁.₃Nb₀.₃Mn₀.₄O₂"], "range": ["#555555","#e8141c","#22d822","#7070ff","#d070e0"]},
      "legend": {"orient": "none", "legendX": 252, "legendY": 16, "title": null, "labelFont": "Liberation Sans", "labelFontSize": 18, "labelColor": "#111", "labelOffset": 17, "rowPadding": 4, "symbolSize": 100, "symbolOpacity": 1, "labelLimit": 300}},
    "shape": {"field": "s", "type": "nominal", "scale": {"domain": ["Observed","Calculated","Background","Difference","Li₁.₃Nb₀.₃Mn₀.₄O₂"], "range": ["M0.45,0A0.45,0.45,0,1,1,-0.45,0A0.45,0.45,0,1,1,0.45,0Z","M-4.1,0L4.1,0","M-4.1,0L4.1,0","M-4.1,0L4.1,0","M0,-0.8L0,0.8"]},
      "legend": {"orient": "none", "legendX": 252, "legendY": 16, "title": null, "labelFont": "Liberation Sans", "labelFontSize": 18, "labelColor": "#111", "labelOffset": 17, "rowPadding": 4, "symbolSize": 100, "symbolOpacity": 1, "labelLimit": 300}},
    "strokeWidth": {"field": "s", "type": "nominal", "scale": {"type": "ordinal", "domain": ["Observed","Calculated","Background","Difference","Li₁.₃Nb₀.₃Mn₀.₄O₂"], "range": [1, 2, 2.5, 1, 1.2]},
      "legend": {"orient": "none", "legendX": 252, "legendY": 16, "title": null, "labelFont": "Liberation Sans", "labelFontSize": 18, "labelColor": "#111", "labelOffset": 17, "rowPadding": 4, "symbolSize": 100, "symbolOpacity": 1, "labelLimit": 300}}}},
  {"data": {"values": [{}]}, "mark": {"type": "text", "text": "wRp = 8.68%", "align": "left", "baseline": "alphabetic", "fontSize": 18},
   "encoding": {"x": {"datum": 30.8, "axis": null}, "y": {"datum": 52.6, "axis": null}}},
  {"data": {"values": [{}]}, "mark": {"type": "text", "text": "XRD refinement", "align": "left", "baseline": "alphabetic", "fontSize": 23.5, "fontWeight": "bold"},
   "encoding": {"x": {"datum": 31.0, "axis": null}, "y": {"datum": 40.0, "axis": null}}},
  {"data": {"values": [{}]}, "mark": {"type": "text", "text": "a)", "align": "left", "baseline": "alphabetic", "fontSize": 30},
   "encoding": {"x": {"datum": 45.5, "axis": null}, "y": {"datum": 88.7, "axis": null}}}
 ]
},
{
 "width": 443, "height": 310,
 "resolve": {"axis": {"x": "independent", "y": "independent"}},
 "layer": [
  {"data": {"name": "calcB"}, "mark": {"type": "line", "color": "#e8141c", "strokeWidth": 2.2, "clip": true},
   "encoding": {
    "x": {"field": "x", "type": "quantitative", "scale": {"domain": [0.3, 2.5], "nice": false, "zero": false},
      "axis": {"orient": "bottom", "values": [0.5,0.75,1,1.25,1.5,1.75,2,2.25,2.5], "labelExpr": "abs(datum.value*2 - round(datum.value*2)) < 0.001 ? format(datum.value, '.1f') : ''", "tickSize": {"condition": {"test": "abs(datum.value*2 - round(datum.value*2)) < 0.001", "value": 5}, "value": 3}, "tickWidth": 1.2, "labelPadding": 4, "labelFlush": true, "title": "D spacing (Å)", "titlePadding": 4}},
    "y": {"field": "y", "type": "quantitative", "scale": {"domain": [0, 100], "nice": false, "zero": false},
      "axis": {"orient": "left", "title": "Intensity (a.u.)", "labels": false, "ticks": false, "titlePadding": 5}}}},
  {"data": {"name": "obsB"}, "mark": {"type": "point", "shape": "circle", "filled": false, "color": "#303030", "size": 40, "strokeWidth": 1.1, "opacity": 0.9, "clip": true},
   "encoding": {
    "x": {"field": "x", "type": "quantitative", "axis": {"orient": "top", "values": [0.5,0.75,1,1.25,1.5,1.75,2,2.25,2.5], "labels": false, "title": null, "tickSize": {"condition": {"test": "abs(datum.value*2 - round(datum.value*2)) < 0.001", "value": -5}, "value": -4}, "tickWidth": 1.2}},
    "y": {"field": "y", "type": "quantitative", "axis": null}}},
  {"data": {"name": "bkgB"}, "mark": {"type": "line", "color": "#22d822", "strokeWidth": 2.5, "clip": true},
   "encoding": {"x": {"field": "x", "type": "quantitative", "axis": null}, "y": {"field": "y", "type": "quantitative", "axis": null}}},
  {"data": {"name": "diffB"}, "mark": {"type": "line", "color": "#5050f2", "strokeWidth": 1, "clip": true},
   "encoding": {"x": {"field": "x", "type": "quantitative", "axis": null}, "y": {"field": "y", "type": "quantitative", "axis": null}}},
  {"data": {"name": "refB"}, "mark": {"type": "rule", "color": "#e860e8", "strokeWidth": 1},
   "encoding": {"x": {"field": "x", "type": "quantitative", "axis": null}, "y": {"datum": 16.3, "axis": null}, "y2": {"datum": 18.6}}},
  {"data": {"name": "keys"}, "mark": {"type": "point", "filled": false, "opacity": 0},
   "encoding": {
    "color": {"field": "s", "type": "nominal", "scale": {"domain": ["Observed","Calculated","Background","Difference","Li₁.₃Nb₀.₃Mn₀.₄O₂"], "range": ["#555555","#e8141c","#22d822","#7070ff","#e070e8"]},
      "legend": {"orient": "none", "legendX": 15, "legendY": 11, "title": null, "labelFont": "Liberation Sans", "labelFontSize": 18, "labelColor": "#111", "labelOffset": 17, "rowPadding": 4.5, "symbolSize": 100, "symbolOpacity": 1, "labelLimit": 300}},
    "shape": {"field": "s", "type": "nominal", "scale": {"domain": ["Observed","Calculated","Background","Difference","Li₁.₃Nb₀.₃Mn₀.₄O₂"], "range": ["M0.45,0A0.45,0.45,0,1,1,-0.45,0A0.45,0.45,0,1,1,0.45,0Z","M-4.1,0L4.1,0","M-4.1,0L4.1,0","M-4.1,0L4.1,0","M0,-0.8L0,0.8"]},
      "legend": {"orient": "none", "legendX": 15, "legendY": 11, "title": null, "labelFont": "Liberation Sans", "labelFontSize": 18, "labelColor": "#111", "labelOffset": 17, "rowPadding": 4.5, "symbolSize": 100, "symbolOpacity": 1, "labelLimit": 300}},
    "strokeWidth": {"field": "s", "type": "nominal", "scale": {"type": "ordinal", "domain": ["Observed","Calculated","Background","Difference","Li₁.₃Nb₀.₃Mn₀.₄O₂"], "range": [1, 2, 2.5, 1, 1.2]},
      "legend": {"orient": "none", "legendX": 15, "legendY": 11, "title": null, "labelFont": "Liberation Sans", "labelFontSize": 18, "labelColor": "#111", "labelOffset": 17, "rowPadding": 4.5, "symbolSize": 100, "symbolOpacity": 1, "labelLimit": 300}}}},
  {"data": {"values": [{}]}, "mark": {"type": "text", "text": "wRp = 4.72%", "align": "left", "baseline": "alphabetic", "fontSize": 18},
   "encoding": {"x": {"datum": 1.189, "axis": null}, "y": {"datum": 90.9, "axis": null}}},
  {"data": {"values": [{}]}, "mark": {"type": "text", "text": "a = 4.1954(1) Å", "align": "left", "baseline": "alphabetic", "fontSize": 18},
   "encoding": {"x": {"datum": 1.189, "axis": null}, "y": {"datum": 82.8, "axis": null}}},
  {"data": {"values": [{}]}, "mark": {"type": "text", "text": "Neutron refinement", "align": "left", "baseline": "alphabetic", "fontSize": 25, "fontWeight": "bold"},
   "encoding": {"x": {"datum": 1.189, "axis": null}, "y": {"datum": 73.2, "axis": null}}},
  {"data": {"values": [{}]}, "mark": {"type": "text", "text": "b)", "align": "left", "baseline": "alphabetic", "fontSize": 30},
   "encoding": {"x": {"datum": 2.237, "axis": null}, "y": {"datum": 89.0, "axis": null}}}
 ]
}
]
}
